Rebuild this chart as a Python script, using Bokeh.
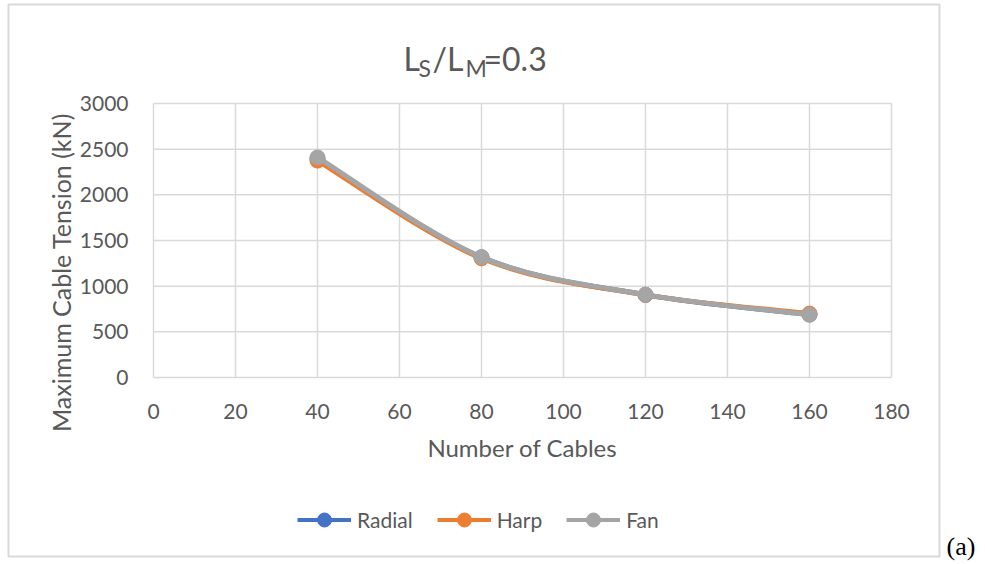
import math
from bokeh.plotting import figure
from bokeh.models import Label, Legend, LegendItem, Range1d, FixedTicker
from bokeh.embed import file_html
from bokeh.resources import INLINE

# ---- data ----
cables = [40, 80, 120, 160]
radial = [2395, 1315, 905, 690]
harp = [2375, 1305, 905, 700]
fan = [2410, 1318, 907, 688]
x_ticks = [0, 20, 40, 60, 80, 100, 120, 140, 160, 180]
y_ticks = [0, 500, 1000, 1500, 2000, 2500, 3000]

W, H = 985, 564
FL, FR, FT, FB = 153, 891, 103, 377  # plot area in px
XMIN, XMAX, YMIN, YMAX = x_ticks[0], x_ticks[-1], y_ticks[0], y_ticks[-1]

def px2x(px):
    return XMIN + (px - FL) * (XMAX - XMIN) / (FR - FL)

def py2y(py):
    return YMIN + (FB - py) * (YMAX - YMIN) / (FB - FT)

TXT = "#595959"
FONT = "Lato"
GRID = "#d9d9d9"

p = figure(width=W, height=H, output_backend="svg", toolbar_location=None,
           x_range=Range1d(px2x(0), px2x(W)), y_range=Range1d(py2y(H), py2y(0)),
           min_border=0, min_border_left=0, min_border_right=0,
           min_border_top=0, min_border_bottom=0)
p.background_fill_color = "white"
p.border_fill_color = "white"
p.outline_line_color = None
p.xgrid.visible = False
p.ygrid.visible = False

for ax in (p.xaxis[0], p.yaxis[0]):
    ax.axis_line_color = None
    ax.major_tick_line_color = None
    ax.minor_tick_line_color = None
    ax.major_label_text_font = FONT
    ax.major_label_text_font_size = "21px"
    ax.major_label_text_color = TXT
p.xaxis[0].ticker = FixedTicker(ticks=x_ticks)
p.yaxis[0].ticker = FixedTicker(ticks=y_ticks)
p.xaxis[0].fixed_location = YMIN
p.yaxis[0].fixed_location = XMIN
p.xaxis[0].bounds = (XMIN, XMAX)
p.yaxis[0].bounds = (YMIN, YMAX)
p.xaxis[0].major_label_standoff = 20
p.yaxis[0].major_label_standoff = 19

# outer chart border
p.quad(left=px2x(8), right=px2x(939), top=py2y(4), bottom=py2y(556),
       fill_color=None, line_color=GRID, line_width=2)

# grid lines and plot-area box
p.segment(x0=x_ticks, y0=[YMIN] * len(x_ticks), x1=x_ticks, y1=[YMAX] * len(x_ticks),
          line_color=GRID, line_width=1.5)
p.segment(x0=[XMIN] * len(y_ticks), y0=y_ticks, x1=[XMAX] * len(y_ticks), y1=y_ticks,
          line_color=GRID, line_width=1.5)

def smooth(xs, ys):
    n = len(xs)
    x0, y0, x1, y1, cx0, cy0, cx1, cy1 = [], [], [], [], [], [], [], []
    for i in range(n - 1):
        xp, yp = (xs[i - 1], ys[i - 1]) if i > 0 else (xs[i], ys[i])
        xn, yn = (xs[i + 2], ys[i + 2]) if i + 2 < n else (xs[i + 1], ys[i + 1])
        x0.append(xs[i]); y0.append(ys[i]); x1.append(xs[i + 1]); y1.append(ys[i + 1])
        cx0.append(xs[i] + (xs[i + 1] - xp) / 6); cy0.append(ys[i] + (ys[i + 1] - yp) / 6)
        cx1.append(xs[i + 1] - (xn - xs[i]) / 6); cy1.append(ys[i + 1] - (yn - ys[i]) / 6)
    return dict(x0=x0, y0=y0, x1=x1, y1=y1, cx0=cx0, cy0=cy0, cx1=cx1, cy1=cy1)

series = [("Radial", radial, "#4472C4"), ("Harp", harp, "#ED7D31"), ("Fan", fan, "#A5A5A5")]
items = []
for name, vals, col in series:
    p.bezier(source=smooth(cables, vals), x0="x0", y0="y0", x1="x1", y1="y1",
             cx0="cx0", cy0="cy0", cx1="cx1", cy1="cy1", line_color=col, line_width=5)
    s = p.scatter(cables, vals, size=15, color=col)
    lg = p.line([cables[0], cables[0]], [vals[0], vals[0]], line_color=col, line_width=4)
    items.append(LegendItem(label=name, renderers=[lg, s]))

legend = Legend(items=items, orientation="horizontal", location=(297, 27),
                border_line_color=None, background_fill_alpha=0, padding=0, margin=0,
                glyph_width=54, glyph_height=35, label_standoff=6, spacing=24,
                label_text_font=FONT, label_text_font_size="21px", label_text_color=TXT)
p.add_layout(legend, "center")

# title with subscripts
title_parts = [("L", 403, 58, "32px"), ("S", 418, 67, "23px"), ("/L", 432, 58, "32px"),
               ("M", 465, 67, "23px"), ("=0.3", 483, 58, "32px")]
for t, xpx, ypx, fs in title_parts:
    p.add_layout(Label(x=px2x(xpx), y=py2y(ypx), text=t, text_font=FONT,
                       text_font_size=fs, text_color=TXT, text_align="left",
                       text_baseline="alphabetic"))

p.add_layout(Label(x=px2x(522), y=py2y(447), text="Number of Cables", text_font=FONT,
                   text_font_size="24px", text_color=TXT, text_align="center",
                   text_baseline="middle"))
p.add_layout(Label(x=px2x(60), y=py2y(272), text="Maximum Cable Tension (kN)",
                   text_font=FONT, text_font_size="25px", text_color=TXT,
                   text_align="center", text_baseline="middle", angle=math.pi / 2))
p.add_layout(Label(x=px2x(946), y=py2y(546), text="(a)", text_font="Liberation Serif",
                   text_font_size="26px", text_color="black", text_align="left",
                   text_baseline="alphabetic"))

open("out.html", "w").write(file_html(p, INLINE))
